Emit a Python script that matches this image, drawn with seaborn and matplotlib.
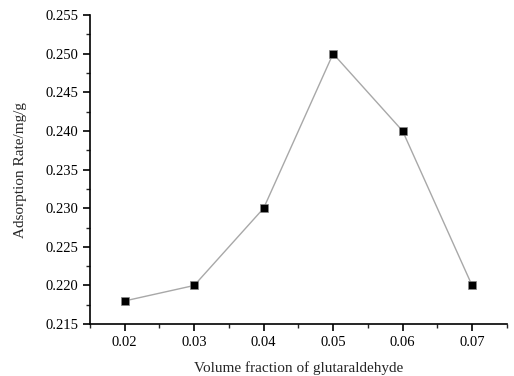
import matplotlib

matplotlib.use("Agg")
import matplotlib.pyplot as plt
import seaborn as sns
import pandas as pd
from matplotlib.ticker import MultipleLocator, FormatStrFormatter

# data
volume_fraction = [0.02, 0.03, 0.04, 0.05, 0.06, 0.07]
adsorption_rate = [0.218, 0.220, 0.230, 0.250, 0.240, 0.220]

df = pd.DataFrame({"x": volume_fraction, "y": adsorption_rate})

sns.set_theme(style="ticks")
plt.rcParams["font.family"] = ["Liberation Serif", "DejaVu Serif"]

fig = plt.figure(figsize=(5.14, 3.76), dpi=100)
ax = fig.add_axes([0.175, 0.138, 0.811, 0.822])

sns.lineplot(
    data=df,
    x="x",
    y="y",
    ax=ax,
    color="#a8a8a8",
    linewidth=1.0,
    marker="s",
    markersize=6,
    markerfacecolor="black",
    markeredgecolor="#888888",
    markeredgewidth=0.5,
)

ax.set_xlim(0.015, 0.075)
ax.set_ylim(0.215, 0.255)
ax.xaxis.set_major_locator(MultipleLocator(0.01))
ax.xaxis.set_minor_locator(MultipleLocator(0.005))
ax.yaxis.set_major_locator(MultipleLocator(0.005))
ax.yaxis.set_minor_locator(MultipleLocator(0.0025))
ax.xaxis.set_major_formatter(FormatStrFormatter("%.2f"))
ax.yaxis.set_major_formatter(FormatStrFormatter("%.3f"))

ax.tick_params(which="major", direction="out", length=5, width=1.2, labelsize=10.5, colors="black")
ax.tick_params(which="minor", direction="out", length=3, width=1.0)

sns.despine(ax=ax)
for s in ["left", "bottom"]:
    ax.spines[s].set_linewidth(1.2)
    ax.spines[s].set_color("black")

ax.set_xlabel("Volume fraction of glutaraldehyde", fontsize=11, labelpad=9)
ax.set_ylabel("Adsorption Rate/mg/g", fontsize=11, labelpad=13)

fig.savefig("out.png", dpi=100)
